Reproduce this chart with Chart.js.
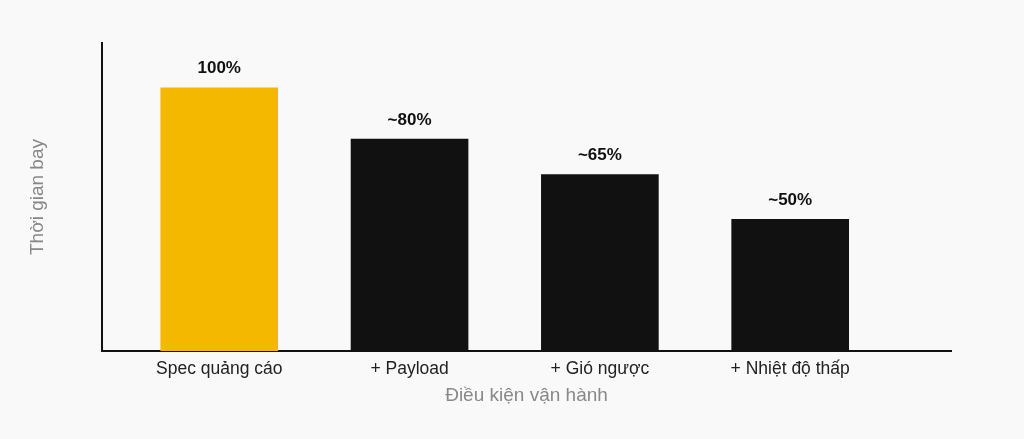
<!DOCTYPE html>
<html lang="vi">
<head>
  <meta charset="UTF-8" />
  <title>Thời gian bay theo điều kiện vận hành</title>
  <script src="https://cdn.jsdelivr.net/npm/chart.js"></script>
  <style>
    html, body {
      margin: 0;
      padding: 0;
      background: #f9f9f9;
    }
    .wrap {
      width: 1024px;
      height: 439px;
      position: relative;
    }
  </style>
</head>
<body>
  <div class="wrap">
    <canvas id="flightChart"></canvas>
  </div>

  <script>
    // Data
    const categories = ['Spec quảng cáo', '+ Payload', '+ Gió ngược', '+ Nhiệt độ thấp'];
    const flightTime = [100, 80.5, 67, 50];
    const valueLabels = ['100%', '~80%', '~65%', '~50%'];
    const barColors = ['#f5b800', '#111111', '#111111', '#111111'];

    const FONT = "'Liberation Sans', Arial, sans-serif";

    // draws the "~80%" text above each bar
    const barLabels = {
      id: 'barLabels',
      afterDatasetsDraw(chart) {
        const ctx = chart.ctx;
        const meta = chart.getDatasetMeta(0);
        ctx.save();
        ctx.font = 'bold 17px ' + FONT;
        ctx.fillStyle = '#111111';
        ctx.textAlign = 'center';
        ctx.textBaseline = 'middle';
        meta.data.forEach((bar, i) => {
          ctx.fillText(valueLabels[i], bar.x, bar.y - 19);
        });
        ctx.restore();
      }
    };

    const ctx = document.getElementById('flightChart').getContext('2d');
    new Chart(ctx, {
      type: 'bar',
      data: {
        datasets: [{
          data: flightTime.map((v, i) => ({ x: i, y: v })),
          backgroundColor: barColors,
          borderWidth: 0,
          barThickness: 117
        }]
      },
      options: {
        responsive: true,
        maintainAspectRatio: false,
        animation: false,
        events: [],
        layout: { padding: { top: 43, right: 73, left: 0, bottom: 0 } },
        plugins: {
          legend: { display: false },
          tooltip: { enabled: false }
        },
        scales: {
          x: {
            type: 'linear',
            offset: false,
            min: -0.616,
            max: 3.845,
            afterFit: s => { s.height = 88; },
            afterBuildTicks: s => { s.ticks = categories.map((_, i) => ({ value: i })); },
            grid: { display: false, drawTicks: false },
            border: { display: true, color: '#111111', width: 2 },
            ticks: {
              padding: 8,
              color: '#222222',
              font: { family: FONT, size: 17.5 },
              callback: v => categories[v]
            },
            title: {
              display: true,
              text: 'Điều kiện vận hành',
              color: '#888888',
              font: { family: FONT, size: 19 },
              padding: { top: 0, bottom: 32 }
            }
          },
          y: {
            min: 0,
            max: 117,
            afterFit: s => { s.width = 102; },
            grid: { display: false, drawTicks: false },
            border: { display: true, color: '#111111', width: 2 },
            ticks: { display: false },
            title: {
              display: true,
              text: 'Thời gian bay',
              color: '#888888',
              font: { family: FONT, size: 19 },
              padding: { top: 26, bottom: 0 }
            }
          }
        }
      },
      plugins: [barLabels]
    });
  </script>
</body>
</html>
